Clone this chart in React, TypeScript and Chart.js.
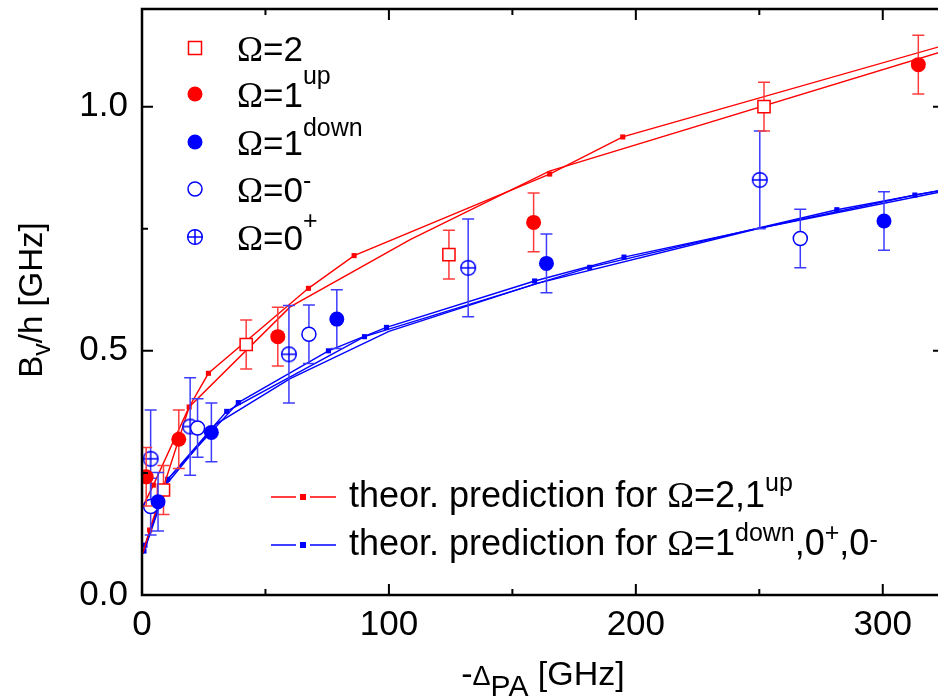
import React, { useEffect, useRef } from "react";
import { Chart, registerables } from "chart.js";

Chart.register(...registerables);

const SANS = "'Liberation Sans', Arial, sans-serif";
const SERIF = "'Liberation Serif', 'Times New Roman', serif";
const RED = "#ff0000";
const BLUE = "#0000ff";
const RED_ERR = "#ff3c3c";
const BLUE_ERR = "#3c3cff";

// ---- axes ----
const X_MIN = 0;
const X_MAX = 324.8;
const Y_MIN = 0;
const Y_MAX = 1.2;
const xMajorTicks = [0, 100, 200, 300];
const xMinorTicks = [50, 150, 250];
const yMajorTicks = [0, 0.5, 1.0];
const yMinorTicks = [0.25, 0.75];

// ---- measured data (x: -Delta_PA [GHz], y: B_v/h [GHz], err: +-) ----
const omega2X = [8.7, 42.2, 124.3, 251.9];
const omega2Y = [0.215, 0.513, 0.697, 1.0];
const omega2Err = [0.05, 0.05, 0.05, 0.05];

const omega1upX = [1.7, 14.9, 55.0, 158.6, 314.4];
const omega1upY = [0.242, 0.319, 0.529, 0.763, 1.086];
const omega1upErr = [0.06, 0.06, 0.06, 0.06, 0.06];

const omega1downX = [6.5, 28.1, 78.9, 163.8, 300.5];
const omega1downY = [0.191, 0.333, 0.565, 0.679, 0.766];
const omega1downErr = [0.06, 0.06, 0.06, 0.06, 0.06];

const omega0mX = [3.5, 22.5, 67.6, 266.6];
const omega0mY = [0.181, 0.342, 0.534, 0.73];
const omega0mErr = [0.058, 0.06, 0.06, 0.06];

const omega0pX = [3.5, 19.5, 59.5, 132.1, 250.2];
const omega0pY = [0.279, 0.345, 0.493, 0.67, 0.85];
const omega0pErr = [0.1, 0.1, 0.1, 0.1, 0.1];

// ---- theory curves ----
const theoRedAX = [0.4, 3.1, 19.1, 26.9, 67.4, 85.9, 165.1, 194.7, 330];
const theoRedAY = [0.086, 0.133, 0.385, 0.454, 0.628, 0.695, 0.862, 0.938, 1.133];
const theoRedAMark = [0, 1, 1, 1, 1, 1, 1, 1, 0];

const theoRedBX = [0.3, 4.6, 19.1, 60, 108.6, 165, 330];
const theoRedBY = [0.181, 0.225, 0.385, 0.59, 0.7275, 0.868, 1.122];
const theoRedBMark = [0, 1, 0, 0, 0, 0, 0];

const theoBlueCX = [0.8, 10.4, 34.3, 90.1, 181.3, 281.4, 330];
const theoBlueCY = [0.09, 0.237, 0.376, 0.529, 0.671, 0.789, 0.835];
const theoBlueCMark = [1, 1, 1, 1, 1, 1, 0];

const theoBlueDX = [1.2, 10.4, 39, 75.5, 99, 159, 195.2, 313, 330];
const theoBlueDY = [0.102, 0.237, 0.394, 0.5, 0.548, 0.643, 0.692, 0.819, 0.834];
const theoBlueDMark = [1, 0, 1, 1, 1, 1, 1, 1, 0];

const theoBlueEX = [0.5, 10.4, 30, 60, 100, 160, 250, 330];
const theoBlueEY = [0.085, 0.23, 0.35, 0.443, 0.54, 0.638, 0.751, 0.832];
const theoBlueEMark = [0, 0, 0, 0, 0, 0, 0, 0];

const zip = (xs: number[], ys: number[]) => xs.map((x, i) => ({ x, y: ys[i] }));

type Seg = { t: string; size: number; fam?: string; up?: number };

function drawRich(ctx: CanvasRenderingContext2D, x: number, y: number, segs: Seg[], align: "left" | "center" = "left") {
  ctx.textAlign = "left";
  ctx.textBaseline = "alphabetic";
  let total = 0;
  for (const s of segs) {
    ctx.font = `${s.size}px ${s.fam ?? SANS}`;
    total += ctx.measureText(s.t).width;
  }
  let cx = align === "center" ? x - total / 2 : x;
  for (const s of segs) {
    ctx.font = `${s.size}px ${s.fam ?? SANS}`;
    ctx.fillText(s.t, cx, y - (s.up ?? 0));
    cx += ctx.measureText(s.t).width;
  }
}

function makeCrossCircle(): HTMLCanvasElement {
  const c = document.createElement("canvas");
  c.width = 20;
  c.height = 20;
  const g = c.getContext("2d")!;
  g.fillStyle = "#fff";
  g.strokeStyle = BLUE;
  g.lineWidth = 1.5;
  g.beginPath();
  g.arc(10, 10, 7.3, 0, Math.PI * 2);
  g.fill();
  g.stroke();
  g.beginPath();
  g.moveTo(2.7, 10);
  g.lineTo(17.3, 10);
  g.moveTo(10, 2.7);
  g.lineTo(10, 17.3);
  g.stroke();
  return c;
}

const errorBarPlugin = {
  id: "errorBars",
  beforeDatasetDraw(chart: any, args: any) {
    const ds = chart.data.datasets[args.index];
    if (!ds.errors) return;
    const ctx: CanvasRenderingContext2D = chart.ctx;
    const xs = chart.scales.x;
    const ys = chart.scales.y;
    const a = chart.chartArea;
    ctx.save();
    ctx.beginPath();
    ctx.rect(a.left, a.top, a.right - a.left, a.bottom - a.top);
    ctx.clip();
    ctx.strokeStyle = ds.errColor;
    ctx.lineWidth = 1.5;
    ds.data.forEach((p: any, i: number) => {
      const px = xs.getPixelForValue(p.x);
      const e = ds.errors[i];
      const y1 = ys.getPixelForValue(p.y + e);
      const y2 = ys.getPixelForValue(p.y - e);
      ctx.beginPath();
      ctx.moveTo(px, y1);
      ctx.lineTo(px, y2);
      ctx.moveTo(px - 6, y1);
      ctx.lineTo(px + 6, y1);
      ctx.moveTo(px - 6, y2);
      ctx.lineTo(px + 6, y2);
      ctx.stroke();
    });
    ctx.restore();
  },
};

function makeDecorPlugin(cross: HTMLCanvasElement) {
  return {
    id: "decor",
    afterDraw(chart: any) {
      const ctx: CanvasRenderingContext2D = chart.ctx;
      const a = chart.chartArea;
      const xs = chart.scales.x;
      const ys = chart.scales.y;
      ctx.save();
      // frame
      ctx.strokeStyle = "#000";
      ctx.lineWidth = 2.5;
      ctx.strokeRect(a.left, a.top, a.right - a.left, a.bottom - a.top);
      // ticks (inward, all sides)
      ctx.lineWidth = 2;
      const tickX = (vals: number[], len: number) => {
        for (const v of vals) {
          const px = xs.getPixelForValue(v);
          ctx.beginPath();
          ctx.moveTo(px, a.bottom);
          ctx.lineTo(px, a.bottom - len);
          ctx.moveTo(px, a.top);
          ctx.lineTo(px, a.top + len);
          ctx.stroke();
        }
      };
      const tickY = (vals: number[], len: number) => {
        for (const v of vals) {
          const py = ys.getPixelForValue(v);
          ctx.beginPath();
          ctx.moveTo(a.left, py);
          ctx.lineTo(a.left + len, py);
          ctx.moveTo(a.right, py);
          ctx.lineTo(a.right - len, py);
          ctx.stroke();
        }
      };
      tickX(xMajorTicks, 11);
      tickX(xMinorTicks, 6);
      tickY(yMajorTicks, 11);
      tickY(yMinorTicks, 6);

      ctx.fillStyle = "#000";
      // axis titles
      drawRich(
        ctx,
        543,
        685,
        [
          { t: "-", size: 34 },
          { t: "\u0394", size: 27 },
          { t: "PA", size: 30, up: -11 },
          { t: " [GHz]", size: 34 },
        ],
        "center"
      );
      ctx.save();
      ctx.translate(30, 300);
      ctx.rotate(-Math.PI / 2);
      drawRich(
        ctx,
        0,
        12,
        [
          { t: "B", size: 33 },
          { t: "v", size: 25, up: -8 },
          { t: "/h [GHz]", size: 33 },
        ],
        "center"
      );
      ctx.restore();

      // top-left legend
      const lx = 195;
      const tx = 237;
      const rows = [48, 94, 142, 189, 237];
      const F = 35;
      const S = 25;
      ctx.lineWidth = 1.5;
      ctx.strokeStyle = RED;
      ctx.fillStyle = "#fff";
      ctx.fillRect(lx - 6.5, rows[0] - 6.5, 13, 13);
      ctx.strokeRect(lx - 6.5, rows[0] - 6.5, 13, 13);
      ctx.fillStyle = RED;
      ctx.beginPath();
      ctx.arc(lx, rows[1], 7.5, 0, Math.PI * 2);
      ctx.fill();
      ctx.fillStyle = BLUE;
      ctx.beginPath();
      ctx.arc(lx, rows[2], 7.5, 0, Math.PI * 2);
      ctx.fill();
      ctx.strokeStyle = BLUE;
      ctx.beginPath();
      ctx.arc(lx, rows[3], 7, 0, Math.PI * 2);
      ctx.stroke();
      ctx.drawImage(cross, lx - 10, rows[4] - 10);

      ctx.fillStyle = "#000";
      const om: Seg = { t: "\u03A9", size: F, fam: SERIF };
      const base = 12.5;
      drawRich(ctx, tx, rows[0] + base, [om, { t: "=2", size: F }]);
      drawRich(ctx, tx, rows[1] + base, [om, { t: "=1", size: F }, { t: "up", size: S, up: 23 }]);
      drawRich(ctx, tx, rows[2] + base, [om, { t: "=1", size: F }, { t: "down", size: S, up: 19 }]);
      drawRich(ctx, tx, rows[3] + base, [om, { t: "=0", size: F }, { t: "-", size: S, up: 13 }]);
      drawRich(ctx, tx, rows[4] + base, [om, { t: "=0", size: F }, { t: "+", size: S, up: 21 }]);

      // bottom-right legend (theory)
      const drawSample = (y: number, col: string) => {
        ctx.strokeStyle = col;
        ctx.lineWidth = 1.5;
        ctx.beginPath();
        ctx.moveTo(271, y);
        ctx.lineTo(296, y);
        ctx.moveTo(310, y);
        ctx.lineTo(336, y);
        ctx.stroke();
        ctx.fillStyle = col;
        ctx.fillRect(300, y - 3, 6, 6);
      };
      drawSample(497, RED);
      drawSample(545, BLUE);
      ctx.fillStyle = "#000";
      const BF = 36;
      const BS = 25;
      const omB: Seg = { t: "\u03A9", size: BF, fam: SERIF };
      drawRich(ctx, 349, 507, [
        { t: "theor. prediction for ", size: BF },
        omB,
        { t: "=2,1", size: BF },
        { t: "up", size: BS, up: 16 },
      ]);
      drawRich(ctx, 349, 555, [
        { t: "theor. prediction for ", size: BF },
        omB,
        { t: "=1", size: BF },
        { t: "down", size: BS, up: 14 },
        { t: ",0", size: BF },
        { t: "+", size: BS, up: 14 },
        { t: ",0", size: BF },
        { t: "-", size: BS, up: 7 },
      ]);
      ctx.restore();
    },
  };
}

export default function App() {
  const ref = useRef<HTMLCanvasElement | null>(null);

  useEffect(() => {
    document.body.style.margin = "0";
    const canvas = ref.current;
    if (!canvas) return;
    const cross = makeCrossCircle();

    const lineDs = (label: string, xs: number[], ys: number[], marks: number[], col: string) => ({
      label,
      data: zip(xs, ys),
      showLine: true,
      borderColor: col,
      backgroundColor: col,
      borderWidth: 1.4,
      pointStyle: "rect",
      pointRadius: marks.map((m) => (m ? 3.6 : 0)),
      pointBackgroundColor: col,
      pointBorderWidth: 0,
      tension: 0,
    });

    const chart = new Chart(canvas, {
      type: "scatter",
      data: {
        datasets: [
          {
            label: "Omega=1up",
            data: zip(omega1upX, omega1upY),
            errors: omega1upErr,
            errColor: RED_ERR,
            pointStyle: "circle",
            pointRadius: 7.5,
            pointBackgroundColor: RED,
            pointBorderColor: RED,
            pointBorderWidth: 0,
          } as any,
          {
            label: "Omega=1down",
            data: zip(omega1downX, omega1downY),
            errors: omega1downErr,
            errColor: BLUE_ERR,
            pointStyle: "circle",
            pointRadius: 7.5,
            pointBackgroundColor: BLUE,
            pointBorderColor: BLUE,
            pointBorderWidth: 0,
          } as any,
          {
            label: "Omega=2",
            data: zip(omega2X, omega2Y),
            errors: omega2Err,
            errColor: RED_ERR,
            pointStyle: "rect",
            pointRadius: 8.6,
            pointBackgroundColor: "#fff",
            pointBorderColor: RED,
            pointBorderWidth: 1.5,
          } as any,
          {
            label: "Omega=0-",
            data: zip(omega0mX, omega0mY),
            errors: omega0mErr,
            errColor: BLUE_ERR,
            pointStyle: "circle",
            pointRadius: 7,
            pointBackgroundColor: "#fff",
            pointBorderColor: BLUE,
            pointBorderWidth: 1.5,
          } as any,
          {
            label: "Omega=0+",
            data: zip(omega0pX, omega0pY),
            errors: omega0pErr,
            errColor: BLUE_ERR,
            pointStyle: cross,
            pointRadius: 7.5,
          } as any,
          lineDs("theory red A", theoRedAX, theoRedAY, theoRedAMark, RED) as any,
          lineDs("theory red B", theoRedBX, theoRedBY, theoRedBMark, RED) as any,
          lineDs("theory blue C", theoBlueCX, theoBlueCY, theoBlueCMark, BLUE) as any,
          lineDs("theory blue D", theoBlueDX, theoBlueDY, theoBlueDMark, BLUE) as any,
          lineDs("theory blue E", theoBlueEX, theoBlueEY, theoBlueEMark, BLUE) as any,
        ],
      },
      options: {
        responsive: false,
        animation: false,
        devicePixelRatio: 1,
        events: [],
        layout: { autoPadding: false, padding: { top: 9, right: 0, left: 0, bottom: 0 } },
        plugins: { legend: { display: false }, tooltip: { enabled: false } },
        scales: {
          x: {
            type: "linear",
            min: X_MIN,
            max: X_MAX,
            grid: { display: false, drawTicks: false },
            border: { display: false },
            ticks: {
              color: "#000",
              font: { size: 35, family: SANS },
              padding: 9,
              maxRotation: 0,
              autoSkip: false,
              callback: (v: any) => String(v),
            },
            afterBuildTicks: (s: any) => {
              s.ticks = xMajorTicks.map((v) => ({ value: v }));
            },
            afterFit: (s: any) => {
              s.height = 105;
              s.paddingLeft = 0;
              s.paddingRight = 0;
            },
          },
          y: {
            type: "linear",
            min: Y_MIN,
            max: Y_MAX,
            grid: { display: false, drawTicks: false },
            border: { display: false },
            ticks: {
              color: "#000",
              font: { size: 35, family: SANS },
              padding: 14,
              autoSkip: false,
              callback: (v: any) => Number(v).toFixed(1),
            },
            afterBuildTicks: (s: any) => {
              s.ticks = yMajorTicks.map((v) => ({ value: v }));
            },
            afterFit: (s: any) => {
              s.width = 142;
              s.paddingTop = 0;
              s.paddingBottom = 0;
            },
          },
        },
      } as any,
      plugins: [errorBarPlugin, makeDecorPlugin(cross)],
    });
    return () => chart.destroy();
  }, []);

  return (
    <div style={{ width: 938, height: 700, overflow: "hidden", position: "relative", background: "#fff" }}>
      <canvas ref={ref} width={944} height={700} style={{ width: 944, height: 700, display: "block" }} />
    </div>
  );
}
